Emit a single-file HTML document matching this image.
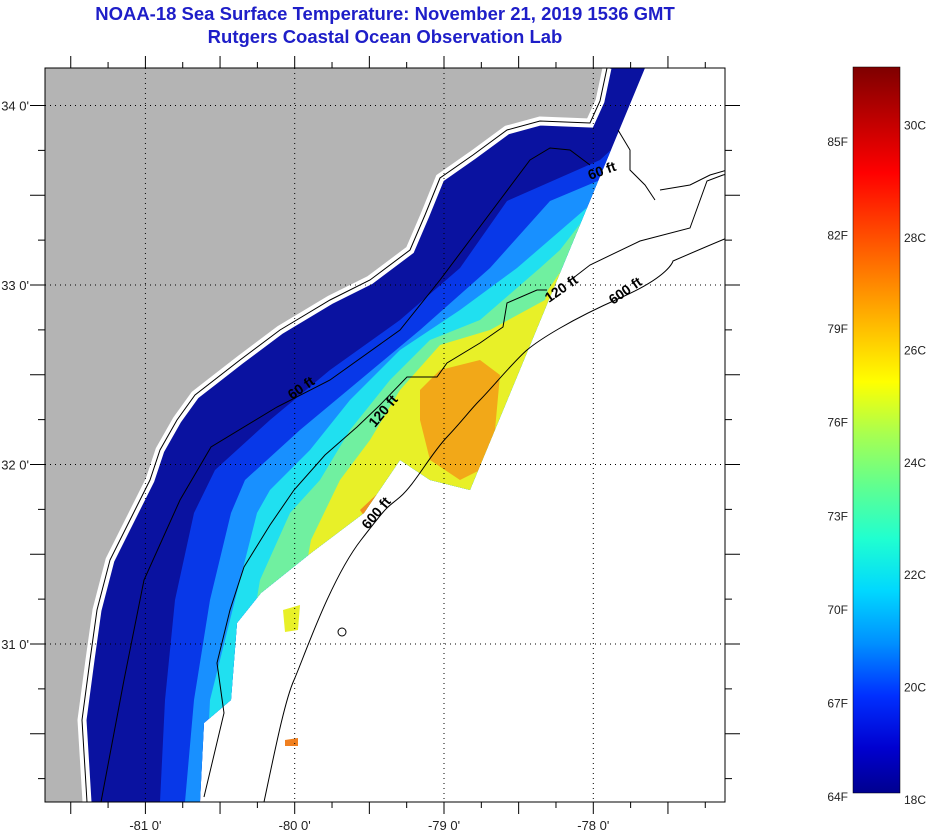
<!DOCTYPE html>
<html><head><meta charset="utf-8"><style>
body{margin:0;background:#fff;width:936px;height:832px;overflow:hidden;font-family:"Liberation Sans",sans-serif}
svg{position:absolute;left:0;top:0}
</style></head><body>
<svg id="chart" width="936" height="832" viewBox="0 0 936 832">
<text x="385" y="20" text-anchor="middle" font-size="18.5" font-weight="bold" fill="#1e1ec8">NOAA-18 Sea Surface Temperature:  November 21, 2019 1536 GMT</text>
<text x="385" y="43" text-anchor="middle" font-size="18.5" font-weight="bold" fill="#1e1ec8">Rutgers Coastal Ocean Observation Lab</text>
<defs>
<clipPath id="mapclip"><rect x="45" y="68" width="680" height="734"/></clipPath>
<clipPath id="swathclip"><polygon points="607,68 645,68 470,490 430,480 400,460 364,513 311,553 261,593 237,623 231,700 204,723 200,802 80,802 80,68"/></clipPath>
</defs>
<g clip-path="url(#mapclip)">
<g clip-path="url(#swathclip)">
<rect x="44" y="68" width="683" height="734" fill="#0a12a0"/>
<polygon fill="#0838e8" points="700,68 600,160 507,201 460,268 400,320 330,370 270,420 215,470 194,513 175,600 165,700 160,802 900,802 900,68"/>
<polygon fill="#1890ff" points="700,68 600,180 550,201 490,268 420,330 360,380 300,430 245,480 231,513 210,600 194,700 185,802 900,802 900,68"/>
<polygon fill="#20e0f0" points="700,68 590,205 517,268 460,310 400,350 350,400 310,450 270,490 257,513 235,600 210,700 205,802 900,802 900,68"/>
<polygon fill="#70f0a0" points="700,68 560,250 540,268 480,320 430,340 390,380 350,430 320,480 290,513 260,580 250,640 240,802 900,802 900,68"/>
<polygon fill="#e8f028" points="700,68 548,290 545,300 490,330 440,345 400,390 370,440 340,480 311,540 300,600 290,802 900,802 900,68"/>
<polygon fill="#f2a818" points="440,370 480,360 500,375 495,430 480,470 460,480 430,460 420,420 420,390"/>
<polygon fill="#f09020" points="360,510 392,480 402,500 370,525"/>
</g>
<polygon fill="#e8f028" points="283,610 300,605 298,630 285,632"/>
<polygon fill="#f08020" points="285,740 298,738 298,746 285,746"/>
<polygon fill="#b4b4b4" points="44,68 607,68 600,101 590,123 540,121 507,130 473,155 440,178 425,215 410,250 370,280 330,300 280,330 240,360 195,395 177,420 160,450 150,480 130,520 110,560 97,610 90,660 82,720 87,802 44,802"/>
<path fill="none" stroke="#fff" stroke-width="9" d="M87,802 L82,720 90,660 97,610 110,560 130,520 150,480 160,450 177,420 195,395 240,360 280,330 330,300 370,280 410,250 425,215 440,178 473,155 507,130 540,121 590,123 600,101 607,68"/>
<g fill="none" stroke="#000" stroke-width="1">
<path d="M264,802 C275,750 285,700 294,680 S330,580 361,540 S385,510 400,497 S430,455 447,437 S470,410 480,400 S515,360 527,350 S570,320 620,298 S673,261 673,261 S710,245 727,238"/>
<path d="M204,797 L224,713 217,663 230,610 244,567 270,525 294,490 325,455 357,427 380,405 407,377 437,377 447,363 480,343 503,327 507,303 537,290 547,290 M568,282 L590,265 640,241 690,228 707,181 723,175 727,174"/>
<path d="M101,802 L124,680 144,580 180,500 211,447 277,407 330,380 400,330 440,280 470,240 500,200 530,160 550,148 570,150 590,165"/>
<path d="M87,802 L82,720 90,660 97,610 110,560 130,520 150,480 160,450 177,420 195,395 240,360 280,330 330,300 370,280 410,250 425,215 440,178 473,155 507,130 540,121 590,123 600,101 607,68"/>
<path d="M618,130 L630,150 630,170 645,185 655,200 M660,190 L690,185 710,175 727,170"/>
<circle cx="342" cy="632" r="4"/>
</g>
<g font-size="14" font-weight="bold" fill="#000">
<text transform="translate(368,530) rotate(-50)">600 ft</text>
<text transform="translate(613,305) rotate(-35)">600 ft</text>
<text transform="translate(375,428) rotate(-50)">120 ft</text>
<text transform="translate(549,303) rotate(-35)">120 ft</text>
<text transform="translate(292,400) rotate(-35)">60 ft</text>
<text transform="translate(590,180) rotate(-20)">60 ft</text>
</g>
<g id="grid"></g>
</g>
<rect x="45" y="68" width="680" height="734" fill="none" stroke="#000"/>
<g id="axes"></g>
<rect id="cbrect" x="853" y="67" width="47" height="726" stroke="#000" stroke-width="0.5"/>
<g id="cblabels"></g>
</svg>
<script>
const lonTicks=[-81,-80,-79,-78];
const latTicks=[34,33,32,31];
const fLabels=[85,82,79,76,73,70,67,64];
const cLabels=[30,28,26,24,22,20,18];
const cbarColors=["#00008f","#0000d0","#0030ff","#0090ff","#00d8ff","#20ffd0","#60ff90","#a8ff50","#ffff00","#ffc000","#ff8000","#ff4000","#ff0000","#c00000","#800000"];
const NS="http://www.w3.org/2000/svg";
const svg=document.getElementById('chart');
function xLon(l){return 444+(l+79)*149.3;}
function yLat(l){return 285-(l-33)*179.5;}
function yC(c){return 800-(c-18)*56.2;}
function yF(f){return 797-(f-64)*31.19;}
function mk(t,a,p){const e=document.createElementNS(NS,t);for(const k in a)e.setAttribute(k,a[k]);p.appendChild(e);return e;}
const grid=document.getElementById('grid'),axes=document.getElementById('axes'),cbl=document.getElementById('cblabels');
lonTicks.forEach(l=>{const x=xLon(l);
 const g=mk('line',{x1:x,y1:68,x2:x,y2:802,stroke:'#000','stroke-dasharray':'1 4'},grid);
 
 
 const t=mk('text',{x:x,y:830,'text-anchor':'middle','font-size':13,fill:'#222'},axes);t.textContent=l+" 0'";
 
 });
latTicks.forEach(l=>{const y=yLat(l);
 const g=mk('line',{x1:45,y1:y,x2:725,y2:y,stroke:'#000','stroke-dasharray':'1 4'},grid);
 
 
 const t=mk('text',{x:29,y:y+5,'text-anchor':'end','font-size':13,fill:'#222'},axes);t.textContent=l+" 0'";
 
 });
for(let l=-81.75;l<=-77.1;l+=0.25){const x=xLon(l);if(x<46||x>724)continue;const q=Math.abs(l*2-Math.round(l*2))>0.01;const len=q?6:12;
 mk('line',{x1:x,y1:802,x2:x,y2:802+len,stroke:'#000'},axes);mk('line',{x1:x,y1:68,x2:x,y2:68-len,stroke:'#000'},axes);}
for(let l=30.0;l<=34.5;l+=0.25){const y=yLat(l);if(y<70||y>800)continue;const q=Math.abs(l*2-Math.round(l*2))>0.01;const len=q?7:15;
 mk('line',{x1:45-len,y1:y,x2:45,y2:y,stroke:'#000'},axes);mk('line',{x1:725,y1:y,x2:725+len,y2:y,stroke:'#000'},axes);}
const defs=svg.querySelector('defs');
const gr=mk('linearGradient',{id:'cbg',x1:0,y1:793,x2:0,y2:67,gradientUnits:'userSpaceOnUse'},defs);
cbarColors.forEach((c,i)=>{mk('stop',{offset:(793-yC(18+i*0.93))/(793-67),'stop-color':c},gr);});
document.getElementById('cbrect').setAttribute('fill','url(#cbg)');
fLabels.forEach(f=>{const t=mk('text',{x:848,y:yF(f)+4,'text-anchor':'end','font-size':12,fill:'#222'},cbl);t.textContent=f+'F';
 
 });
cLabels.forEach(c=>{const t=mk('text',{x:904,y:yC(c)+4,'font-size':12,fill:'#222'},cbl);t.textContent=c+'C';
 
 });
</script>
</body></html>
